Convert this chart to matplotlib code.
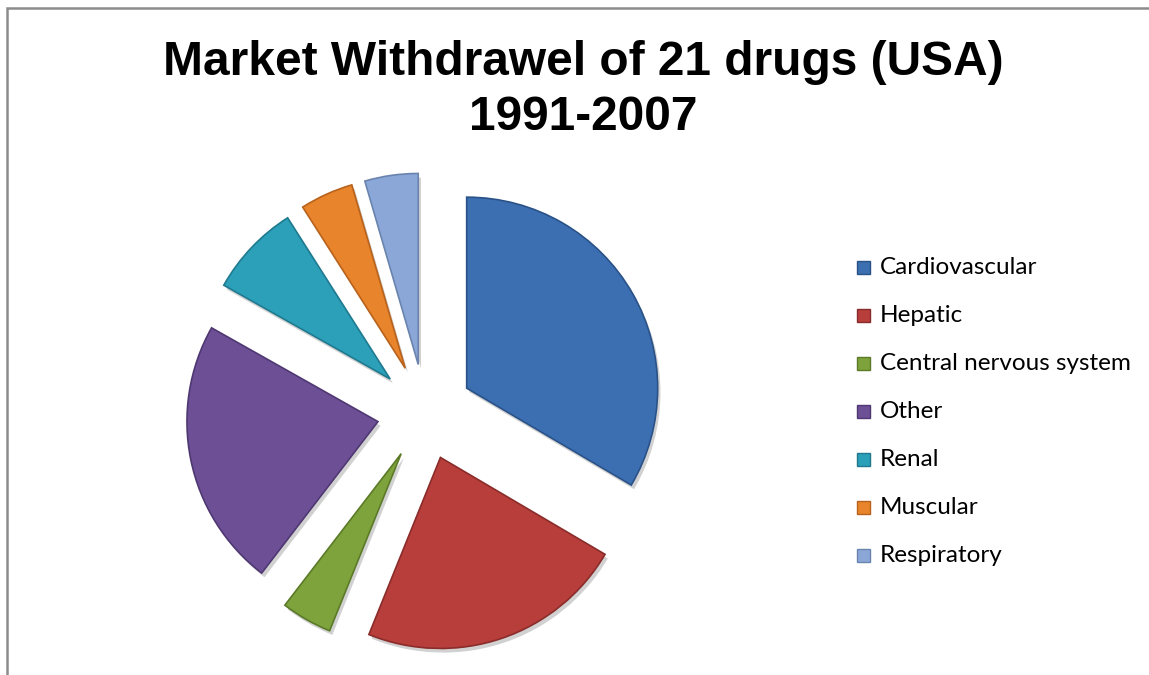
import matplotlib.pyplot as plt
from matplotlib.patches import Rectangle
import matplotlib.patheffects as pe

# Drug withdrawals by organ system, USA 1991-2007 (share of 21 drugs, %)
categories = ["Cardiovascular", "Hepatic", "Central nervous system", "Other",
              "Renal", "Muscular", "Respiratory"]
shares = [33.4, 22.6, 4.3, 22.7, 7.8, 4.5, 4.5]

title_lines = ["Market Withdrawel of 21 drugs (USA)", "1991-2007"]

colors = ["#3b6fb1", "#b83e3b", "#7ea33c", "#6d4f96", "#2c9fb9", "#e8842c", "#8aa7d8"]
edges = ["#2a5288", "#8a2c2a", "#5b7a28", "#4f3872", "#1f7a8f", "#b8621c", "#6a84ae"]

W, H = 1149, 675
fig = plt.figure(figsize=(W / 100, H / 100), dpi=100)
ax = fig.add_axes([0, 0, 1, 1])

center = (425, H - 412)
radius = 191
gap = 48

wedges, _ = ax.pie(shares, colors=colors, startangle=90, counterclock=False,
                   center=center, radius=radius, explode=[gap] * len(shares),
                   wedgeprops=dict(linewidth=1.2))
for w, ec in zip(wedges, edges):
    w.set_edgecolor(ec)
    w.set_path_effects([pe.SimplePatchShadow(offset=(2, -3), shadow_rgbFace="#000000",
                                             alpha=0.18), pe.Normal()])

ax.set_xlim(0, W)
ax.set_ylim(0, H)
ax.set_aspect("equal")
ax.axis("off")

# outer chart border (only left and top edges fall inside the image)
ax.add_patch(Rectangle((7, -10), W + 20, H - 8 + 10, fill=False,
                       edgecolor="#8c8c8c", linewidth=1.8, clip_on=False))

for line, base in zip(title_lines, [75, 130]):
    ax.text(583, H - base, line, ha="center", va="baseline", fontsize=34.5,
            fontweight="bold", family="Liberation Sans", color="black")

# legend
for i, (label, c, ec) in enumerate(zip(categories, colors, edges)):
    y = H - (267 + 48 * i)
    ax.add_patch(Rectangle((857, y - 6.5), 13, 13, facecolor=c, edgecolor=ec,
                           linewidth=1))
    ax.text(880, y, label, ha="left", va="center", fontsize=17.5,
            family="Lato", color="black")

fig.savefig("out.png", dpi=100)
